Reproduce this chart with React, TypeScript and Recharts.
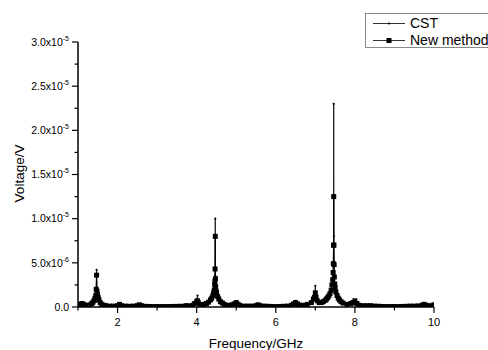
import React from 'react';
import { LineChart, Line, XAxis, YAxis } from 'recharts';

// Frequency samples (GHz)
const freqGHz = [
  1.00, 1.05, 1.10, 1.15, 1.20, 1.25, 1.30, 1.35, 1.38, 1.41,
  1.43, 1.45, 1.46, 1.47, 1.48, 1.49, 1.51, 1.53, 1.56, 1.60,
  1.65, 1.70, 1.80, 1.90, 2.00, 2.05, 2.10, 2.20, 2.30, 2.40,
  2.50, 2.55, 2.60, 2.70, 2.80, 2.90, 3.00, 3.10, 3.20, 3.30,
  3.40, 3.50, 3.60, 3.70, 3.75, 3.80, 3.90, 3.95, 4.00, 4.02,
  4.04, 4.08, 4.15, 4.20, 4.25, 4.30, 4.35, 4.38, 4.41, 4.43,
  4.445, 4.455, 4.46, 4.465, 4.47, 4.475, 4.48, 4.49, 4.50, 4.53,
  4.56, 4.60, 4.65, 4.70, 4.80, 4.90, 4.95, 5.00, 5.05, 5.10,
  5.20, 5.30, 5.40, 5.50, 5.55, 5.60, 5.70, 5.80, 5.90, 6.00,
  6.10, 6.20, 6.30, 6.40, 6.45, 6.50, 6.55, 6.60, 6.70, 6.80,
  6.90, 6.95, 6.98, 7.00, 7.02, 7.05, 7.10, 7.15, 7.20, 7.25,
  7.28, 7.31, 7.34, 7.37, 7.40, 7.42, 7.44, 7.45, 7.455, 7.46,
  7.465, 7.47, 7.475, 7.48, 7.49, 7.50, 7.52, 7.55, 7.58, 7.61,
  7.65, 7.70, 7.80, 7.90, 7.95, 8.00, 8.05, 8.10, 8.20, 8.30,
  8.40, 8.50, 8.60, 8.70, 8.80, 8.90, 9.00, 9.10, 9.20, 9.30,
  9.40, 9.50, 9.60, 9.70, 9.75, 9.80, 9.90, 10.00,
];

// CST voltage (in microvolts)
const cstMicroV = [
  0.15, 0.3, 0.45, 0.3, 0.15, 0.15, 0.25, 0.4, 0.55, 0.75,
  1.0, 1.4, 2.2, 4.2, 2.0, 1.5, 1.1, 0.8, 0.5, 0.3,
  0.2, 0.15, 0.1, 0.1, 0.15, 0.3, 0.15, 0.1, 0.08, 0.1,
  0.15, 0.25, 0.15, 0.08, 0.06, 0.05, 0.05, 0.05, 0.05, 0.05,
  0.06, 0.07, 0.08, 0.1, 0.15, 0.1, 0.2, 0.4, 0.8, 1.3,
  0.6, 0.3, 0.2, 0.3, 0.4, 0.55, 0.8, 1.0, 1.3, 1.6,
  2.0, 2.6, 3.0, 4.4, 10.0, 3.5, 2.5, 1.9, 1.6, 1.2,
  0.9, 0.6, 0.45, 0.3, 0.2, 0.25, 0.35, 0.55, 0.3, 0.15,
  0.1, 0.1, 0.1, 0.15, 0.25, 0.15, 0.1, 0.08, 0.06, 0.05,
  0.06, 0.08, 0.1, 0.2, 0.35, 0.7, 0.35, 0.2, 0.2, 0.3,
  0.5, 0.9, 1.3, 2.4, 1.2, 0.7, 0.5, 0.5, 0.6, 0.75,
  0.9, 1.05, 1.25, 1.5, 1.9, 2.4, 3.0, 4.0, 5.0, 7.0,
  23.0, 8.0, 5.0, 3.5, 2.6, 2.2, 1.7, 1.3, 1.0, 0.8,
  0.6, 0.45, 0.3, 0.4, 0.5, 0.75, 0.4, 0.2, 0.15, 0.15,
  0.15, 0.1, 0.08, 0.06, 0.05, 0.05, 0.05, 0.05, 0.06, 0.08,
  0.1, 0.1, 0.12, 0.2, 0.3, 0.2, 0.15, 0.25,
];

// New method voltage (in microvolts)
const newMicroV = [
  0.15, 0.3, 0.4, 0.3, 0.15, 0.15, 0.25, 0.4, 0.55, 0.75,
  1.0, 1.3, 2.0, 3.6, 1.8, 1.4, 1.1, 0.8, 0.5, 0.3,
  0.2, 0.15, 0.1, 0.1, 0.15, 0.3, 0.15, 0.1, 0.08, 0.1,
  0.15, 0.25, 0.15, 0.08, 0.06, 0.05, 0.05, 0.05, 0.05, 0.05,
  0.06, 0.07, 0.08, 0.1, 0.15, 0.1, 0.2, 0.4, 0.6, 0.7,
  0.5, 0.3, 0.2, 0.3, 0.4, 0.55, 0.8, 1.0, 1.3, 1.6,
  1.9, 2.5, 2.9, 4.3, 8.0, 3.2, 2.3, 1.8, 1.6, 1.2,
  0.9, 0.6, 0.45, 0.3, 0.2, 0.25, 0.35, 0.5, 0.3, 0.15,
  0.1, 0.1, 0.1, 0.15, 0.25, 0.15, 0.1, 0.08, 0.06, 0.05,
  0.06, 0.08, 0.1, 0.2, 0.35, 0.5, 0.35, 0.2, 0.2, 0.3,
  0.5, 0.9, 1.1, 1.6, 1.1, 0.7, 0.5, 0.5, 0.6, 0.75,
  0.9, 1.05, 1.25, 1.5, 1.9, 2.5, 3.1, 3.9, 4.9, 7.0,
  12.5, 7.0, 4.8, 3.4, 2.6, 2.2, 1.7, 1.3, 1.0, 0.8,
  0.6, 0.45, 0.3, 0.4, 0.5, 0.7, 0.4, 0.2, 0.15, 0.15,
  0.15, 0.1, 0.08, 0.06, 0.05, 0.05, 0.05, 0.05, 0.06, 0.08,
  0.1, 0.1, 0.12, 0.2, 0.3, 0.2, 0.15, 0.25,
];

const seriesNames = ['CST', 'New method'];

const xTicks = [1, 2, 3, 4, 5, 6, 7, 8, 9, 10];
const xTickLabels = ['', '2', '', '4', '', '6', '', '8', '', '10'];

const yTicks = [0, 2.5e-6, 5e-6, 7.5e-6, 1e-5, 1.25e-5, 1.5e-5, 1.75e-5, 2e-5, 2.25e-5, 2.5e-5, 2.75e-5, 3e-5];
const yTickMantissa = ['0.0', '', '5.0x10', '', '1.0x10', '', '1.5x10', '', '2.0x10', '', '2.5x10', '', '3.0x10'];
const yTickExponent = ['', '', '-6', '', '-5', '', '-5', '', '-5', '', '-5', '', '-5'];

const data = freqGHz.map((f, i) => ({
  f,
  cst: cstMicroV[i] * 1e-6,
  nm: newMicroV[i] * 1e-6,
}));

const FONT = '"Liberation Sans", Arial, sans-serif';
const TS = 6;
const TM = 3;

const YTick = (props: any) => {
  const { x, y, index } = props;
  const ax = x + TS + TM;
  const major = yTickMantissa[index] !== '';
  return (
    <g>
      <line x1={ax} x2={ax - (major ? 6 : 3.5)} y1={y} y2={y} stroke="#000" strokeWidth={1.2} />
      {major && (
        <text x={ax - 9} y={y + 3.8} textAnchor="end" fontFamily={FONT} fontSize={10.5} fill="#000">
          {yTickMantissa[index]}
          {yTickExponent[index] && (
            <tspan dy={-5} fontSize={7}>{yTickExponent[index]}</tspan>
          )}
        </text>
      )}
    </g>
  );
};

const XTick = (props: any) => {
  const { x, y, index } = props;
  const ay = y - TS - TM;
  const major = xTickLabels[index] !== '';
  return (
    <g>
      <line x1={x} x2={x} y1={ay} y2={ay + (major ? 6 : 3.5)} stroke="#000" strokeWidth={1.2} />
      {major && (
        <text x={x} y={ay + 19} textAnchor="middle" fontFamily={FONT} fontSize={11} fill="#000">
          {xTickLabels[index]}
        </text>
      )}
    </g>
  );
};

const CstDot = (props: any) => {
  const { cx, cy, index } = props;
  if (cx == null || cy == null) return <g key={`c-${index}`} />;
  return <circle key={`c-${index}`} cx={cx} cy={cy} r={1.1} fill="#000" />;
};

const SquareDot = (props: any) => {
  const { cx, cy, index } = props;
  if (cx == null || cy == null) return <g key={`s-${index}`} />;
  return <rect key={`s-${index}`} x={cx - 2.5} y={cy - 2.5} width={5} height={5} fill="#000" />;
};

const XTitle = (props: any) => {
  const vb = props.viewBox || { x: 78, y: 307, width: 356, height: 43 };
  return (
    <text x={vb.x + vb.width / 2} y={vb.y + 41} textAnchor="middle" fontFamily={FONT} fontSize={13.5} fill="#000">
      Frequency/GHz
    </text>
  );
};

const YTitle = (props: any) => {
  const vb = props.viewBox || { x: 0, y: 42, width: 78, height: 265 };
  const cx = 19;
  const cy = vb.y + vb.height / 2 - 1;
  return (
    <text
      x={cx}
      y={cy}
      transform={`rotate(-90 ${cx} ${cy})`}
      textAnchor="middle"
      dominantBaseline="central"
      fontFamily={FONT}
      fontSize={13.5}
      fill="#000"
    >
      Voltage/V
    </text>
  );
};

const LegendBox = () => (
  <div
    style={{
      position: 'absolute',
      left: 365,
      top: 13,
      width: 140,
      height: 33,
      border: '1px solid #8a8a8a',
      background: '#fff',
      fontFamily: FONT,
      fontSize: 14,
      color: '#000',
    }}
  >
    {seriesNames.map((name, i) => (
      <div key={name} style={{ position: 'absolute', left: 0, top: 1 + i * 16.5, height: 16, width: 140 }}>
        <svg width={40} height={16} style={{ position: 'absolute', left: 7, top: 0 }}>
          <line x1={0} x2={32} y1={8.5} y2={8.5} stroke="#000" strokeWidth={0.8} />
          {i === 0 ? (
            <circle cx={16} cy={8.5} r={1.1} fill="#000" />
          ) : (
            <rect x={13.5} y={6} width={5} height={5} fill="#000" />
          )}
        </svg>
        <span style={{ position: 'absolute', left: 44, top: 0, lineHeight: '16px', whiteSpace: 'nowrap' }}>{name}</span>
      </div>
    ))}
  </div>
);

export default function App() {
  return (
    <div style={{ position: 'absolute', left: 0, top: 0, width: 488, height: 350, overflow: 'hidden', background: '#fff' }}>
      <LineChart width={488} height={350} data={data} margin={{ top: 42, right: 54, bottom: 0, left: 0 }}>
        <XAxis
          dataKey="f"
          type="number"
          domain={[1, 10]}
          ticks={xTicks}
          interval={0}
          tickSize={TS}
          tickMargin={TM}
          tickLine={false}
          tick={<XTick />}
          axisLine={{ stroke: '#000', strokeWidth: 1.5 }}
          height={43}
          allowDataOverflow
          label={{ content: <XTitle /> }}
        />
        <YAxis
          type="number"
          domain={[0, 3e-5]}
          ticks={yTicks}
          interval={0}
          tickSize={TS}
          tickMargin={TM}
          tickLine={false}
          tick={<YTick />}
          axisLine={{ stroke: '#000', strokeWidth: 1.5 }}
          width={78}
          allowDataOverflow
          label={{ content: <YTitle /> }}
        />
        <Line
          type="linear"
          dataKey="cst"
          name={seriesNames[0]}
          stroke="#000"
          strokeWidth={0.8}
          dot={CstDot}
          activeDot={false}
          isAnimationActive={false}
        />
        <Line
          type="linear"
          dataKey="nm"
          name={seriesNames[1]}
          stroke="#000"
          strokeWidth={1}
          dot={SquareDot}
          activeDot={false}
          isAnimationActive={false}
        />
      </LineChart>
      <LegendBox />
    </div>
  );
}
